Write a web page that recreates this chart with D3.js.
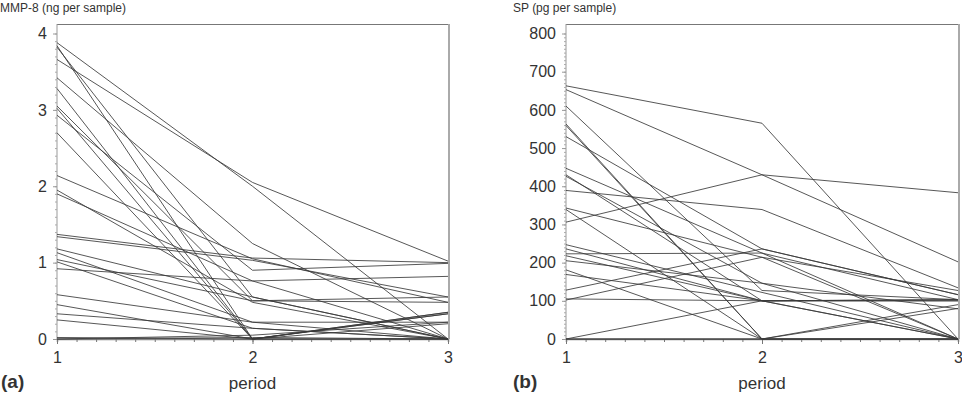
<!DOCTYPE html>
<html>
<head>
<meta charset="utf-8">
<script src="https://cdn.jsdelivr.net/npm/d3@7"></script>
<style>
  body { margin: 0; background: #fff; }
  text { font-family: "Liberation Sans", Arial, sans-serif; fill: #333; }
</style>
</head>
<body>
<div class="sandbox"></div>
<script>
// periods on the x axis
var periods = [1, 2, 3];

// MMP-8 (ng per sample), one row per subject: period 1, 2, 3
var mmpSeries = [
  [3.88, 2.00, 0.00], [3.66, 2.05, 1.02], [3.84, 0.00, 0.20], [3.82, 0.55, 0.00],
  [3.42, 1.25, 0.00], [3.28, 0.00, 0.35], [3.05, 0.50, 0.55], [3.02, 0.00, 0.00],
  [2.93, 0.90, 0.99], [2.70, 0.00, 0.33], [2.14, 1.05, 0.48], [1.95, 0.48, 0.00],
  [1.90, 0.76, 0.82], [1.37, 1.06, 1.00], [1.34, 1.03, 0.55], [1.18, 0.55, 0.00],
  [1.13, 0.22, 0.22], [1.04, 0.50, 0.48], [1.01, 0.14, 0.00], [0.92, 0.76, 0.00],
  [0.58, 0.22, 0.00], [0.45, 0.00, 0.33], [0.33, 0.14, 0.00], [0.25, 0.00, 0.00],
  [0.02, 0.00, 0.35], [0.00, 0.02, 0.00], [0.00, 0.05, 0.22]
];

// SP (pg per sample), one row per subject: period 1, 2, 3
var spSeries = [
  [663, 565, 0], [653, 430, 202], [306, 430, 383], [610, 127, 103],
  [563, 0, 0], [559, 0, 90], [530, 236, 116], [389, 339, 134],
  [447, 225, 0], [430, 100, 103], [426, 146, 0], [343, 214, 127],
  [339, 0, 0], [247, 122, 0], [236, 100, 100], [223, 225, 103],
  [218, 100, 0], [205, 146, 79], [181, 0, 0], [169, 100, 103],
  [128, 236, 116], [105, 100, 100], [102, 214, 0], [0, 100, 0],
  [0, 0, 80], [0, 0, 0]
];

var mmpTicks = [0, 1, 2, 3, 4];
var spTicks = [0, 100, 200, 300, 400, 500, 600, 700, 800];

var svg = d3.select(".sandbox").append("svg")
  .attr("width", 962)
  .attr("height", 393);

function panel(opt) {
  var x = d3.scaleLinear().domain([1, 3]).range([opt.x0, opt.x1]);
  var y = d3.scaleLinear().domain([0, opt.max]).range([339, 33.5]);
  var g = svg.append("g");

  // frame: top and right
  g.append("line").attr("x1", opt.x0).attr("x2", opt.x1 + 1)
    .attr("y1", 24.5).attr("y2", 24.5).attr("stroke", "#777").attr("stroke-width", 1);
  g.append("line").attr("x1", opt.x1 + 1).attr("x2", opt.x1 + 1)
    .attr("y1", 24).attr("y2", 339).attr("stroke", "#aaa").attr("stroke-width", 2);

  // y minor ticks
  var ya = g.append("g").attr("transform", "translate(" + opt.x0 + ",0)")
    .call(d3.axisLeft(y).tickValues(d3.range(0, opt.max + opt.minor / 2, opt.minor)).tickSize(2).tickFormat(""));
  ya.select(".domain").attr("stroke", "#999").attr("d", "M0,24V339");
  ya.selectAll(".tick line").attr("stroke", "#aaa");

  // y labels
  var yl = g.append("g").attr("transform", "translate(" + opt.x0 + ",0)")
    .call(d3.axisLeft(y).tickValues(opt.ticks).tickSize(4).tickPadding(6).tickFormat(d3.format("d")));
  yl.select(".domain").remove();
  yl.selectAll(".tick line").attr("stroke", "#999");
  yl.selectAll(".tick text").style("font-size", "16px").attr("fill", "#333")
    .style("font-family", "'Liberation Sans', Arial, sans-serif");

  // x minor ticks
  var xa = g.append("g").attr("transform", "translate(0,339)")
    .call(d3.axisBottom(x).tickValues(d3.range(1, 3.05, 0.1)).tickSize(3).tickFormat(""));
  xa.select(".domain").attr("stroke", "#888").attr("stroke-width", 1.5);
  xa.selectAll(".tick line").attr("stroke", "#777");
  var xl = g.append("g").attr("transform", "translate(0,339)")
    .call(d3.axisBottom(x).tickValues(periods).tickSize(5).tickPadding(8).tickFormat(d3.format("d")));
  xl.select(".domain").remove();
  xl.selectAll(".tick line").attr("stroke", "#777");
  xl.selectAll(".tick text").style("font-size", "16px").attr("fill", "#333")
    .style("font-family", "'Liberation Sans', Arial, sans-serif");

  // subject lines
  var line = d3.line().x(function(d, i) { return x(periods[i]); }).y(function(d) { return y(d); });
  g.append("g").selectAll("path")
    .data(opt.series)
    .enter()
    .append("path")
    .attr("d", line)
    .attr("fill", "none")
    .attr("stroke", "#3a3a3a")
    .attr("stroke-width", 1)
    .attr("stroke-opacity", 0.85);

  // texts
  g.append("text").attr("x", opt.labelX).attr("y", 12)
    .style("font-size", "12px").text(opt.title);
  g.append("text").attr("x", (opt.x0 + opt.x1) / 2).attr("y", 389)
    .attr("text-anchor", "middle").style("font-size", "17px").text("period");
  g.append("text").attr("x", opt.tagX).attr("y", 388)
    .style("font-size", "19px").style("font-weight", "bold").attr("fill", "#111").text(opt.tag);
}

panel({ x0: 57, x1: 448, max: 4, minor: 0.1, ticks: mmpTicks, series: mmpSeries,
  title: "MMP-8 (ng per sample)", labelX: 0, tag: "(a)", tagX: 1 });
panel({ x0: 566, x1: 958, max: 800, minor: 10, ticks: spTicks, series: spSeries,
  title: "SP (pg per sample)", labelX: 513, tag: "(b)", tagX: 513 });
</script>
</body>
</html>
